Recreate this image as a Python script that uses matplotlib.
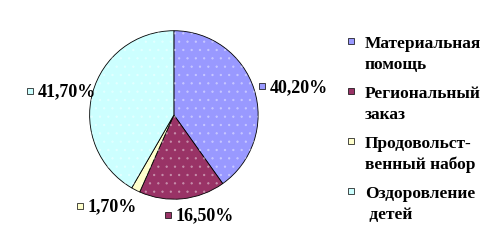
import numpy as np
import matplotlib.pyplot as plt
from matplotlib.lines import Line2D

plt.rcParams['font.family'] = ['Liberation Serif', 'DejaVu Serif']
plt.rcParams['font.weight'] = 'bold'

categories = ["Материальная\nпомощь", "Региональный\nзаказ",
              "Продовольст-\nвенный набор", "Оздоровление\n детей"]
shares = [40.2, 16.5, 1.7, 41.7]
pct_labels = ["40,20%", "16,50%", "1,70%", "41,70%"]
colors = ["#9999FF", "#993366", "#FFFFCC", "#CCFFFF"]

# where each percentage label's square sits (pie radius = 1)
label_pos = [(1.05, 0.34), (-0.07, -1.19), (-1.12, -1.08), (-1.71, 0.29)]

fig = plt.figure(figsize=(5.04, 2.51), dpi=100)
ax = fig.add_axes([0.345 - 0.169, 0.538 - 0.339, 0.338, 0.678])

wedges, _ = ax.pie(shares, colors=colors, startangle=90, counterclock=False,
                   wedgeprops=dict(edgecolor='black', linewidth=0.6))
# faint dotted texture
plt.rcParams['hatch.linewidth'] = 0.5
ax.pie(shares, colors=['none'] * 4, startangle=90, counterclock=False,
       wedgeprops=dict(edgecolor='white', linewidth=0, hatch='..', alpha=0.35))
ax.set_xlim(-1.01, 1.01)
ax.set_ylim(-1.01, 1.01)

for (x, y), txt, c in zip(label_pos, pct_labels, colors):
    ax.plot([x], [y], marker='s', markersize=5, markerfacecolor=c,
            markeredgecolor='black', markeredgewidth=0.5, clip_on=False)
    ax.text(x + 0.09, y, txt, fontsize=13, fontweight='bold',
            ha='left', va='center', clip_on=False)

handles = [Line2D([], [], linestyle='none', marker='s', markersize=5,
                  markerfacecolor=c, markeredgecolor='black', markeredgewidth=0.5)
           for c in colors]
leg = fig.legend(handles, categories, loc='upper left', bbox_to_anchor=(0.655, 0.918),
                 frameon=False, handlelength=0.6, handletextpad=0.5,
                 labelspacing=0.74, prop={'weight': 'bold', 'size': 12.5})
for t in leg.get_texts():
    t.set_linespacing(1.4)
# squares next to the first line of each entry
for col in leg._legend_handle_box.get_children():
    for item in col.get_children():
        item.align = 'top'

fig.savefig("out.png", dpi=100)
